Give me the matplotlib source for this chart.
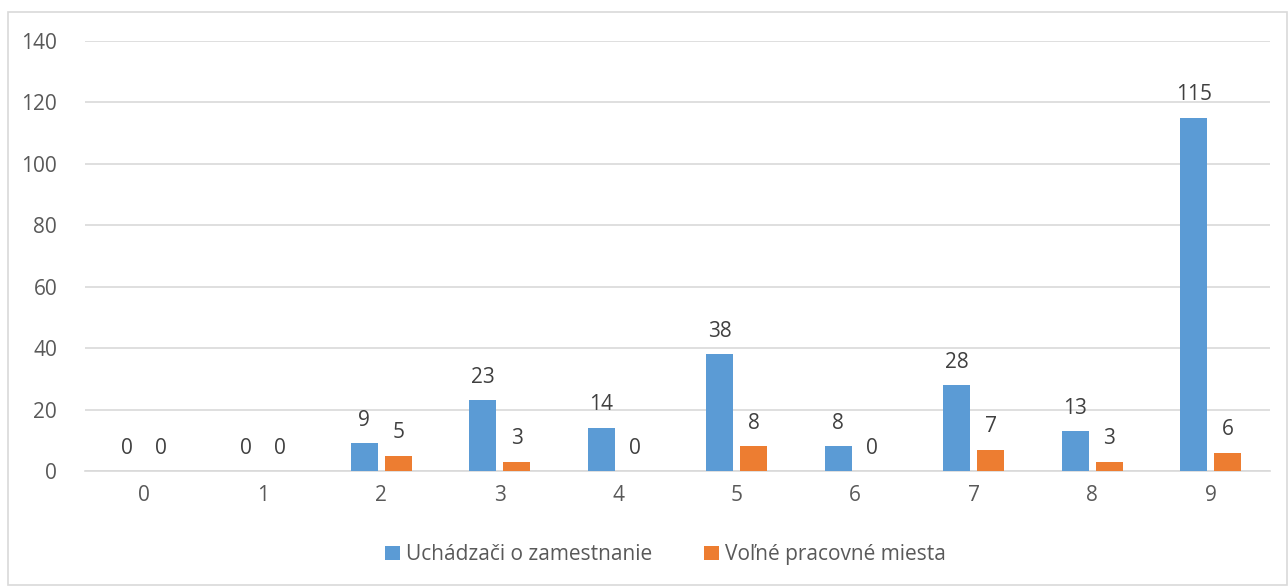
import numpy as np
import matplotlib.pyplot as plt
import matplotlib.patches as mpatches

plt.rcParams['font.family'] = ['Open Sans', 'DejaVu Sans']

# data
categories = ['0', '1', '2', '3', '4', '5', '6', '7', '8', '9']
uchadzaci = [0, 0, 9, 23, 14, 38, 8, 28, 13, 115]
volne = [0, 0, 5, 3, 0, 8, 0, 7, 3, 6]
series_names = ['Uchádzači o zamestnanie', 'Voľné pracovné miesta']

BLUE = '#5B9BD5'
ORANGE = '#ED7D31'
TEXT = '#595959'
FS = 15

fig = plt.figure(figsize=(12.88, 5.86), dpi=100)
ax = fig.add_axes([85 / 1288, 1 - 471 / 586, (1270 - 85) / 1288, (471 - 41) / 586])

# outer chart border
fig.patches.append(mpatches.Rectangle((8 / 1288, 0.002), 1 - 9 / 1288, 1 - 12 / 586 - 0.002,
                                      transform=fig.transFigure, fill=False,
                                      edgecolor='#D9D9D9', linewidth=1.2))

x = np.arange(len(categories))
w = 0.229
off = 0.144
b1 = ax.bar(x - off, uchadzaci, w, color=BLUE, label=series_names[0], zorder=3)
b2 = ax.bar(x + off, volne, w, color=ORANGE, label=series_names[1], zorder=3)

for bars in (b1, b2):
    ax.bar_label(bars, padding=9, fontsize=FS, color='#404040')

ax.set_xlim(-0.5, len(categories) - 0.5)
ax.set_ylim(0, 140)
ax.set_yticks(range(0, 141, 20))
ax.set_xticks(x)
ax.set_xticklabels(categories)
ax.grid(axis='y', color='#D9D9D9', linewidth=1.2, zorder=0)
ax.set_axisbelow(True)
for s in ['top', 'right', 'left']:
    ax.spines[s].set_visible(False)
ax.spines['bottom'].set_color('#D9D9D9')
ax.spines['bottom'].set_linewidth(1.2)
ax.tick_params(axis='both', length=0, labelsize=FS, labelcolor=TEXT)
ax.tick_params(axis='y', pad=20)
ax.tick_params(axis='x', pad=10)

ax.legend(loc='center', bbox_to_anchor=(0.49, -0.195), ncol=2, frameon=False,
          fontsize=FS, labelcolor=TEXT, handlelength=0.7, handleheight=0.7,
          handletextpad=0.3, columnspacing=2.5)

fig.savefig('out.png', dpi=100)
